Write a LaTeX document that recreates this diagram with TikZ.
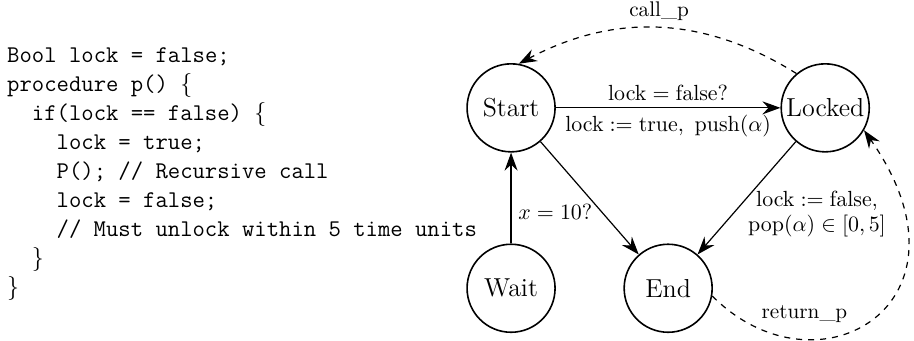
\documentclass[tikz,border=0pt]{standalone}
\usepackage{amsmath,amssymb}
\usetikzlibrary{arrows.meta,positioning}

\tikzset{
  state/.style={circle, draw, thick, minimum size=44pt, inner sep=0pt,
    font=\fontsize{13}{15}\selectfont},
  trans/.style={-{Stealth[length=9pt,width=6.5pt,inset=3pt]}, semithick},
  proc/.style={trans, dashed},
  lbl/.style={font=\fontsize{10.6}{12.5}\selectfont},
  code/.style={align=left, inner sep=0pt, anchor=north west,
    font=\fontsize{12}{14.5}\selectfont\ttfamily},
}

\begin{document}
\begin{tikzpicture}
\useasboundingbox (0,0) rectangle (16.06,5.975);

% Source of the procedure
\node[code] (listing) at (0.12,5.144) {%
Bool lock = false;\\
procedure p() $\{$\\
~~if(lock == false) $\{$\\
~~~~lock = true;\\
~~~~P(); // Recursive call\\
~~~~lock = false;\\
~~~~// Must unlock within 5 time units\\
~~$\}$\\
$\}$};

% States
\node[state] (Start) at (8.98,4.08) {Start};
\node[state] (Locked) at (14.50,4.08) {Locked};
\node[state] (Wait) at (8.98,0.91) {Wait};
\node[state] (End) at (11.74,0.91) {End};

% Transitions
\draw[trans] (Start) -- node[lbl, above] {$\mathrm{lock} = \mathrm{false}?$}
  node[lbl, below] {$\mathrm{lock} := \mathrm{true},\ \mathrm{push}(\alpha)$} (Locked);
\draw[trans] (Start) -- (End);
\draw[trans] (Locked) -- node[lbl, pos=0.64, right=4pt, align=center]
  {$\mathrm{lock} := \mathrm{false}$,\\ $\mathrm{pop}(\alpha) \in [0,5]$} (End);
\draw[trans] (Wait) -- node[lbl, pos=0.35, right] {$x = 10?$} (Start);

% Call and return of p
\draw[proc] (Locked.130) to[bend right=30] node[lbl, above] {call\_p} (Start.80);
\draw[proc] (End.-10) to[out=-45, in=-55, out looseness=1.7, in looseness=2.4]
  node[lbl, pos=0.27, above=5pt] {return\_p} (Locked.-30);
\end{tikzpicture}
\end{document}
